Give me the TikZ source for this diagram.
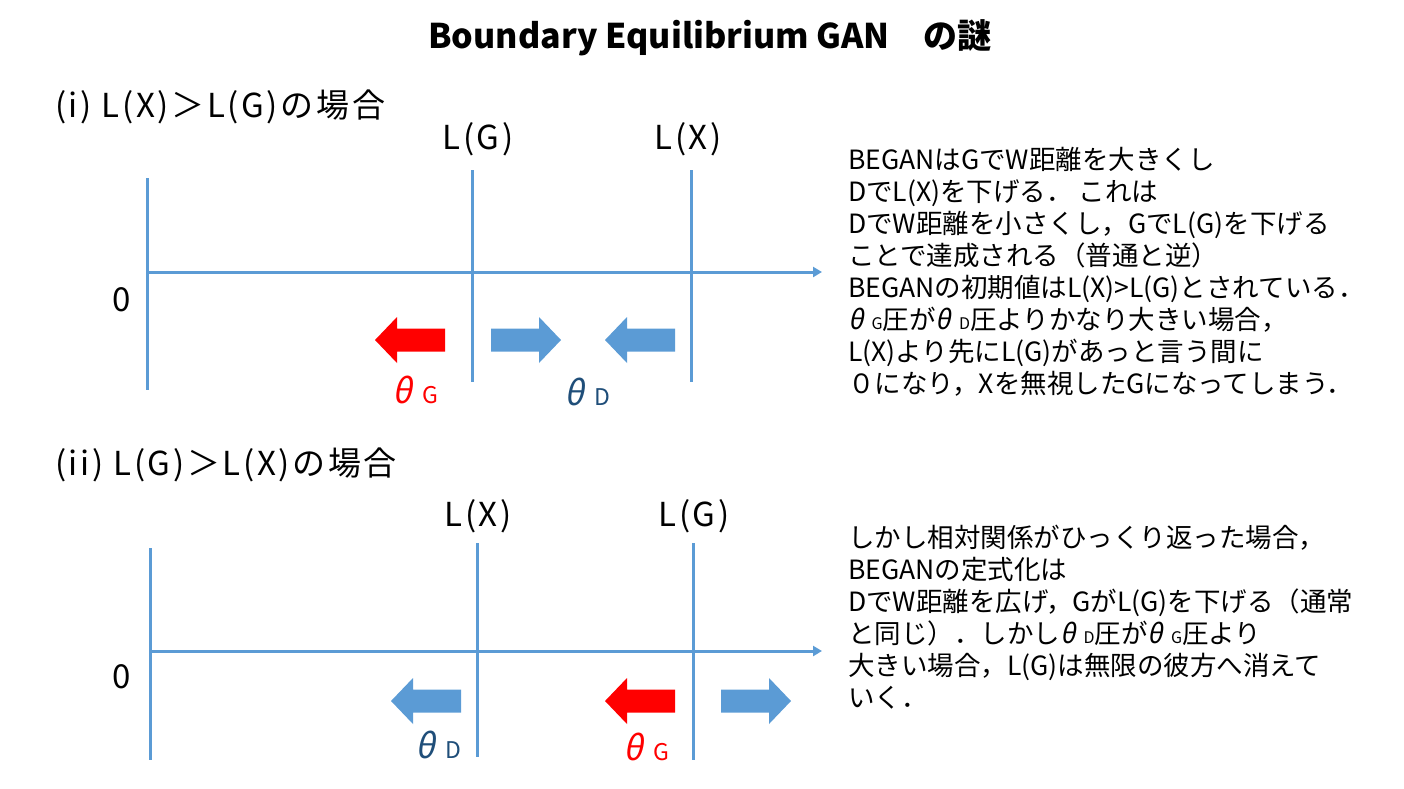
\documentclass[tikz,border=0pt]{standalone}
\usepackage{fontspec}
\setmainfont{Noto Sans CJK JP}
\newfontfamily\slfont{Noto Sans CJK JP}[FakeSlant=0.2]
\usetikzlibrary{arrows.meta,positioning}
\definecolor{axblue}{HTML}{5B9BD5}
\definecolor{thblue}{HTML}{1F4E79}
\newcommand{\thsub}[2]{{\slfont θ}\hspace{0.3em}{\fontsize{#2}{#2}\selectfont #1}}

\begin{document}
\begin{tikzpicture}[
    x=1pt, y=-1pt,
    axis/.style={axblue, line width=3pt},
    lbl/.style={font=\fontsize{33}{33}\selectfont\addfontfeature{LetterSpace=8}, inner sep=0pt},
    thlbl/.style={font=\fontsize{34}{34}\selectfont, inner sep=0pt},
    note/.style={font=\fontsize{26.5}{32}\selectfont, align=left, anchor=north west, inner sep=0pt},
    larrow/.pic={\fill (0,-11.5) -- (-48,-11.5) -- (-48,-23) -- (-70,0) -- (-48,23) -- (-48,11.5) -- (0,11.5) -- cycle;},
    rarrow/.pic={\fill (0,-11.5) -- (48,-11.5) -- (48,-23) -- (70,0) -- (48,23) -- (48,11.5) -- (0,11.5) -- cycle;}
]
  \useasboundingbox (0,0) rectangle (1404,788);

  % title
  \node[font=\fontsize{34}{34}\selectfont\bfseries] (title) at (710,38) {Boundary Equilibrium GAN　の謎};

  % (i) L(X) > L(G)
  \node[lbl, anchor=west] (sec1) at (55,107) {(i) L(X)＞L(G)の場合};
  \coordinate (o1) at (147,272);
  \coordinate (e1) at (822,272);
  \coordinate (v1t) at (147,178);  \coordinate (v1b) at (147,390);
  \coordinate (g1t) at (472,170);  \coordinate (g1b) at (472,382);
  \coordinate (x1t) at (691,170);  \coordinate (x1b) at (691,382);
  \draw[axis] (v1t) -- (v1b);
  \draw[axis] (g1t) -- (g1b);
  \draw[axis] (x1t) -- (x1b);
  \draw[axis, -{Triangle[length=9pt,width=10pt]}] (o1) -- (e1);
  \node[lbl] (lg1) at (478,139) {L(G)};
  \node[lbl] (lx1) at (688,139) {L(X)};
  \node[lbl] (zero1) at (122,300) {0};
  \pic[red] at (445,340) {larrow};
  \pic[axblue] at (491,340) {rarrow};
  \pic[axblue] at (675,340) {larrow};
  \node[thlbl, red] (thg1) at (415,390) {\thsub{G}{23}};
  \node[thlbl, thblue] (thd1) at (587,392) {\thsub{D}{23}};

  \node[note] (note1) at (848,147) {BEGANはGでW距離を大きくし\\
    DでL(X)を下げる． これは\\
    DでW距離を小さくし，GでL(G)を下げる\\
    ことで達成される（普通と逆）\\
    BEGANの初期値はL(X)>L(G)とされている．\\
    \thsub{G}{16}圧が\thsub{D}{16}圧よりかなり大きい場合，\\
    L(X)より先にL(G)があっと言う間に\\
    ０になり，Xを無視したGになってしまう．};

  % (ii) L(G) > L(X)
  \node[lbl, anchor=west] (sec2) at (55,465) {(ii) L(G)＞L(X)の場合};
  \coordinate (o2) at (150,651);
  \coordinate (e2) at (822,651);
  \coordinate (v2t) at (150,548);  \coordinate (v2b) at (150,760);
  \coordinate (x2t) at (477,543);  \coordinate (x2b) at (477,757);
  \coordinate (g2t) at (693,543);  \coordinate (g2b) at (693,760);
  \draw[axis] (v2t) -- (v2b);
  \draw[axis] (x2t) -- (x2b);
  \draw[axis] (g2t) -- (g2b);
  \draw[axis, -{Triangle[length=9pt,width=10pt]}] (o2) -- (e2);
  \node[lbl] (lx2) at (478,516) {L(X)};
  \node[lbl] (lg2) at (694,516) {L(G)};
  \node[lbl] (zero2) at (122,677) {0};
  \pic[axblue] at (461,701) {larrow};
  \pic[red] at (675,701) {larrow};
  \pic[axblue] at (721,701) {rarrow};
  \node[thlbl, thblue] (thd2) at (438,745) {\thsub{D}{23}};
  \node[thlbl, red] (thg2) at (646,747) {\thsub{G}{23}};

  \node[note] (note2) at (848,525) {しかし相対関係がひっくり返った場合，\\
    BEGANの定式化は\\
    DでW距離を広げ，GがL(G)を下げる（通常\\
    と同じ）．しかし\thsub{D}{16}圧が\thsub{G}{16}圧より\\
    大きい場合，L(G)は無限の彼方へ消えて\\
    いく．};
\end{tikzpicture}
\end{document}
